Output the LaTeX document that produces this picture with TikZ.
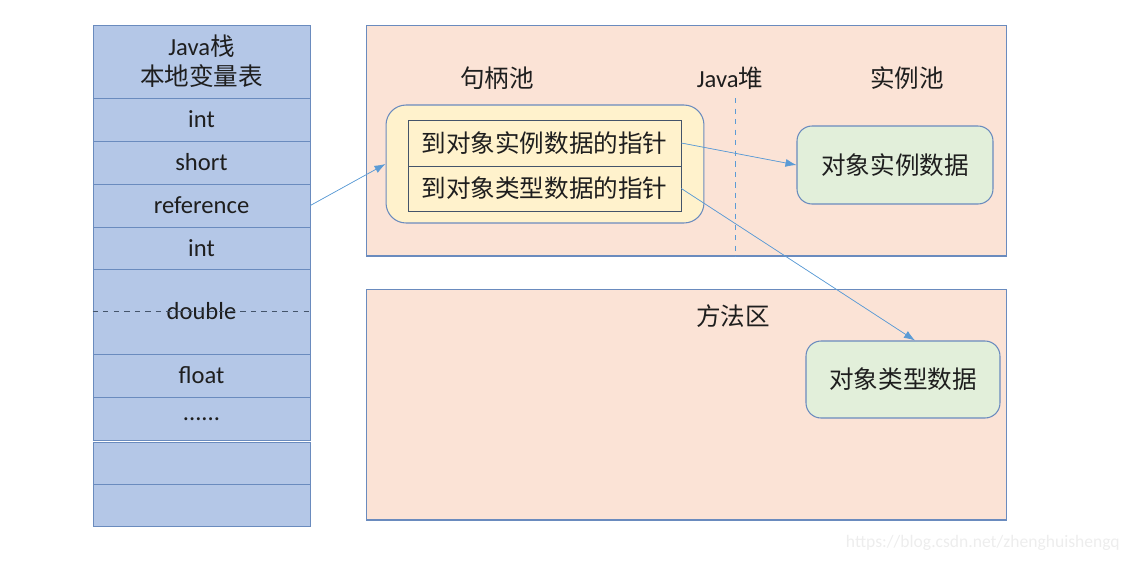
\documentclass[tikz,border=0pt]{standalone}
\usepackage{fontspec}
\setmainfont{Carlito}
\newfontfamily\cjk{Noto Sans CJK SC}
\usetikzlibrary{arrows.meta,positioning,calc}
\definecolor{stackblue}{HTML}{B4C7E7}
\definecolor{edgeblue}{HTML}{6A8BBE}
\definecolor{heappeach}{HTML}{FBE3D6}
\definecolor{poolyellow}{HTML}{FFF2CC}
\definecolor{datagreen}{HTML}{E2EFDA}
\definecolor{arrowblue}{HTML}{5B9BD5}
\definecolor{inkgray}{HTML}{1E1E1E}
\definecolor{rowedge}{HTML}{44546A}
\definecolor{markgray}{HTML}{EDEDED}
\newcommand{\sixdots}{\raisebox{-0.1cm}{......}}
\tikzset{
  cell/.style={draw=edgeblue, fill=stackblue, minimum width=4.34cm, inner sep=0pt, text=inkgray, font=\fontsize{14}{17}\selectfont},
  area/.style={draw=edgeblue, fill=heappeach, semithick, inner sep=0pt},
  label/.style={text=inkgray, font=\cjk\fontsize{14}{17}\selectfont},
  pool/.style={rounded corners=0.4cm, draw=edgeblue, semithick, fill=poolyellow, minimum width=6.36cm, minimum height=2.36cm},
  ptrrow/.style={draw=rowedge, fill=poolyellow, minimum width=5.46cm, inner sep=0pt, text=inkgray, font=\cjk\fontsize{14}{17}\selectfont},
  databox/.style={rounded corners=0.3cm, draw=edgeblue, semithick, fill=datagreen, inner sep=0pt, text=inkgray, font=\cjk\fontsize{14}{17}\selectfont},
  arrow/.style={-{Latex[length=2.2mm,width=1.6mm]}, draw=arrowblue, fill=arrowblue, thin}
}
\begin{document}
\begin{tikzpicture}[x=0.02cm, y=-0.02cm]
  \useasboundingbox (0,0) rectangle (1134,562);
  % Java stack
  \node[cell, minimum height=1.46cm, align=center] (stackhead) at (201.5,61.5) {Java{\cjk 栈}\\{\cjk 本地变量表}};
  \foreach \n/\y/\h/\t in {0/119.5/43/int, 1/162.5/43/short, 2/205.5/43/reference, 3/248/42/int,
                           4/311.5/85/double, 5/375.5/43/float, 6/418.5/43/\sixdots, 7/463/42/{}, 8/505/42/{}} {
    \node[cell, minimum height=\h*0.02cm] (cell\n) at (201.5,\y) {\t};
  }
  \draw[rowedge, dashed, thin] (cell4.west) -- (cell4.east);
  \draw[edgeblue, thick] (cell6.south west) -- (cell6.south east);
  % heap and method area
  \node[area, minimum width=12.82cm, minimum height=4.62cm] (heap) at (686.5,140.5) {};
  \node[area, minimum width=12.82cm, minimum height=4.62cm] (method) at (686.5,404.5) {};
  \node[label] (handlelbl) at (497,78) {句柄池};
  \node[label] (heaplbl) at (730,78) {\rmfamily Java{\cjk 堆}};
  \node[label] (instlbl) at (907,78) {实例池};
  \node[label] (methodlbl) at (733,316) {方法区};
  \coordinate (divtop) at (735,98);
  \draw[arrowblue, dashed] (divtop) -- (divtop |- heap.south);
  % handle pool
  \node[pool] (pool) at (545,164) {};
  \node[ptrrow, minimum height=0.92cm] (ptrinst) at (544.5,143) {到对象实例数据的指针};
  \node[ptrrow, minimum height=0.90cm] (ptrtype) at (544.5,188.5) {到对象类型数据的指针};
  % object data
  \node[databox, minimum width=3.92cm, minimum height=1.56cm] (instdata) at (895,165) {对象实例数据};
  \node[databox, minimum width=3.88cm, minimum height=1.54cm] (typedata) at (903,379.5) {对象类型数据};
  % references
  \draw[arrow] (cell2.east) -- (pool.west);
  \draw[arrow] (ptrinst.east) -- (instdata.west);
  \draw[arrow] (ptrtype.east) -- ($(typedata.north)+(12,0)$);
  \node[anchor=east, text=markgray, font=\fontsize{10}{12}\selectfont] (mark) at (1126,543) {https://blog.csdn.net/zhenghuishengq};
\end{tikzpicture}
\end{document}
